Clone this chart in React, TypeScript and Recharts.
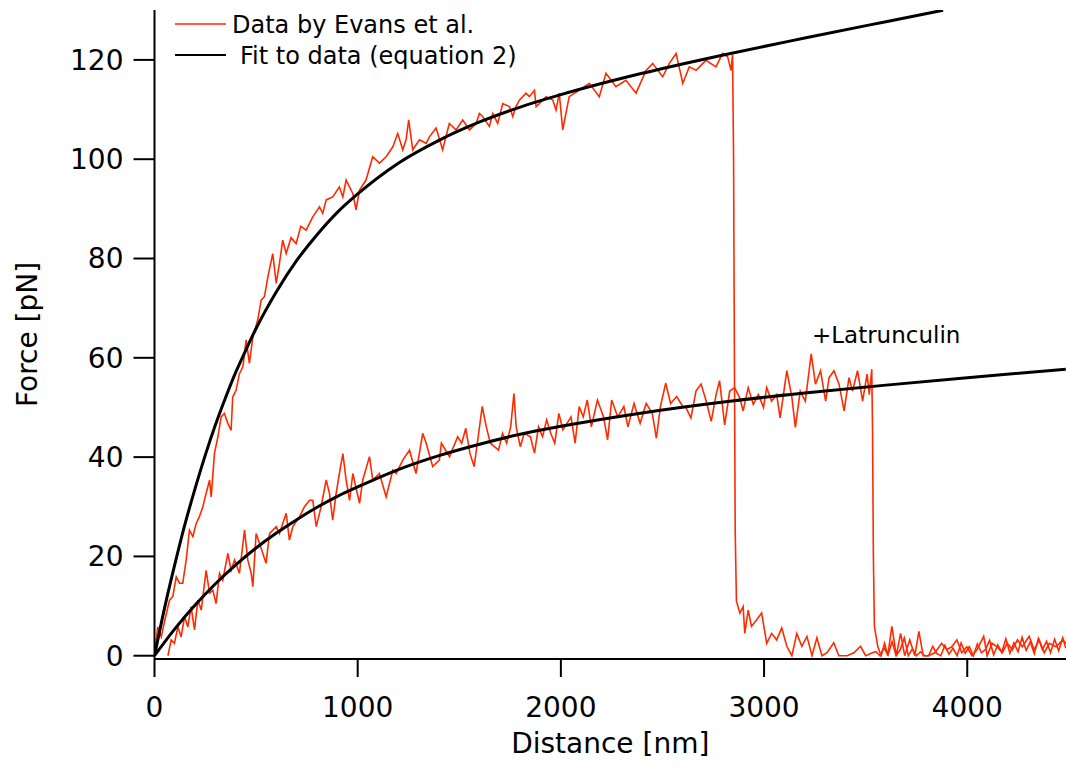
import { Label, Legend, Line, LineChart, ReferenceDot, XAxis, YAxis } from 'recharts';

// [distance nm, force pN]
type Pt = [number, number];

const X_TICKS = [0, 1000, 2000, 3000, 4000];
const Y_TICKS = [0, 20, 40, 60, 80, 100, 120];

const SERIES_DATA = 'Data by Evans et al.';
const SERIES_FIT = 'Fit to data (equation 2)';
const NOTE = '+Latrunculin';

const evansControl: Pt[] = [
  [0, 0], [5, 2], [16, 5.8], [33, 3.8], [50, 7], [74, 11.2], [90, 11.9], [107, 15.9], [123, 14.6],
  [139, 14.6], [156, 19.3], [172, 25.3], [189, 24], [205, 26.6], [221, 28], [238, 30], [254, 32.7],
  [271, 35.4], [279, 32], [295, 40.7], [312, 44.1], [328, 48.1], [344, 48.8], [361, 46.8], [377, 45.4],
  [385, 52.1], [402, 53.5], [418, 56.8], [435, 58.2], [451, 63.6], [467, 58.9], [484, 64.2], [508, 67.6],
  [525, 71.6], [541, 72.3], [558, 76.3], [582, 81], [599, 75], [615, 79], [631, 83.7], [648, 81],
  [672, 84.2], [697, 83], [720, 86.5], [746, 85.7], [779, 88.4], [812, 90.4], [828, 89.1], [845, 91.8],
  [877, 92.4], [910, 94.4], [927, 92.4], [943, 95.8], [976, 93.1], [992, 89.8], [1009, 93.8], [1041, 95.8],
  [1074, 100.5], [1107, 99.2], [1140, 100.5], [1173, 102.5], [1197, 105.2], [1222, 101.9], [1238, 103.9],
  [1251, 107.9], [1271, 101.9], [1304, 103.9], [1337, 103.2], [1353, 104.5], [1386, 106.3], [1418, 101.9],
  [1451, 107.2], [1484, 105.9], [1517, 107.9], [1550, 105.9], [1583, 107.2], [1599, 109.2], [1615, 108.6],
  [1648, 106.6], [1665, 109.2], [1689, 107.2], [1714, 111.2], [1747, 110.6], [1763, 108.6], [1779, 110.6],
  [1796, 111.9], [1828, 113.3], [1845, 112.6], [1870, 113.9], [1878, 110.6], [1894, 111.2], [1927, 112.6],
  [1960, 111.9], [1976, 109.9], [1992, 113.3], [2009, 105.9], [2041, 112.6], [2091, 113.9], [2140, 115.3],
  [2189, 112.6], [2222, 117.3], [2271, 114.6], [2320, 115.9], [2370, 113.3], [2419, 117.9], [2452, 119.3],
  [2501, 116.6], [2534, 119.3], [2567, 121.3], [2600, 115.3], [2632, 118.6], [2665, 117.9], [2714, 119.9],
  [2763, 118.6], [2796, 121.3], [2821, 120.6], [2837, 117.9], [2845, 121], [2850, 100], [2854, 60],
  [2858, 25], [2864, 11], [2881, 8.6], [2897, 9.9], [2905, 4.5], [2922, 9.2], [2938, 5.9], [2963, 7.2],
  [2988, 8.6], [3013, 2.5], [3037, 4.5], [3062, 3.2], [3087, 5.6], [3112, 1.9], [3137, 0], [3161, 4.5],
  [3186, 1.9], [3211, 3.9], [3236, 0], [3260, 3.6], [3285, 0], [3310, 0.6], [3343, 2.6], [3368, 0],
  [3409, 0], [3442, 0.6], [3475, 1.9], [3500, 0], [3533, 0.6], [3550, 0.8], [3570, 0], [3590, 1.6],
  [3610, 0.2], [3630, 2.8], [3650, 0], [3670, 1.2], [3690, 3.6], [3710, 0], [3730, 1.4], [3750, 0],
  [3770, 0.8], [3790, 0], [3810, 0], [3830, 1.9], [3850, 0.4], [3870, 0], [3890, 2.1], [3910, 0.3],
  [3930, 1.5], [3950, 0], [3970, 2.6], [3990, 0.5], [4010, 1.8], [4030, 0], [4050, 2.4], [4070, 0.6],
  [4090, 1.3], [4110, 3.1], [4130, 0.2], [4150, 2.2], [4170, 0.7], [4190, 3.4], [4210, 0.5], [4230, 2.6],
  [4250, 0.8], [4270, 3.7], [4290, 1.1], [4310, 2.8], [4330, 0.4], [4350, 3.5], [4370, 1.2], [4390, 2.9],
  [4410, 0.6], [4430, 3.3], [4450, 1], [4470, 3.6], [4485, 1.5],
];

const evansLatrunculin: Pt[] = [
  [66, 0], [82, 3.2], [98, 2.5], [115, 5.8], [131, 3.8], [148, 7.9], [164, 5.8], [180, 9.9], [197, 5.2],
  [213, 11.2], [230, 9.2], [254, 17.2], [271, 12.6], [287, 13.2], [303, 10.5], [320, 16.6], [336, 15.2],
  [361, 20.6], [377, 17.2], [394, 19.3], [418, 16.6], [443, 25.3], [459, 19.3], [476, 16.6], [484, 13.9],
  [500, 24.6], [517, 22.6], [533, 20.6], [549, 18.6], [566, 24.6], [599, 26], [615, 24.6], [648, 28.7],
  [664, 23.3], [681, 26], [714, 28], [738, 30], [763, 31.3], [779, 31.3], [796, 26], [820, 30],
  [845, 35.4], [861, 32.7], [877, 27.3], [894, 32.7], [910, 36.7], [927, 40.7], [943, 35.4], [960, 31.3],
  [976, 36.7], [1009, 30.7], [1025, 35.4], [1058, 40.1], [1074, 35.4], [1107, 36.7], [1140, 32],
  [1173, 37.4], [1189, 36.7], [1222, 39.4], [1255, 41.4], [1287, 36.7], [1320, 44.8], [1337, 42.8],
  [1369, 38.1], [1402, 39.4], [1412, 42.8], [1452, 40.1], [1492, 44.1], [1512, 42.8], [1532, 45.8],
  [1552, 40.8], [1573, 38.1], [1593, 44.1], [1613, 50.2], [1633, 46.1], [1653, 42.8], [1673, 42.1],
  [1693, 41.4], [1713, 44.8], [1733, 42.8], [1753, 46.1], [1769, 52.8], [1780, 46.1], [1800, 42.1],
  [1820, 44.8], [1850, 44.1], [1870, 40.8], [1890, 46.1], [1910, 44.1], [1930, 47.5], [1950, 44.8],
  [1970, 42.8], [1990, 48.8], [2010, 45.5], [2030, 46.8], [2050, 48.1], [2070, 42.8], [2090, 50.2],
  [2110, 48.1], [2130, 51.5], [2150, 46.1], [2180, 51.5], [2210, 48.1], [2230, 43.5], [2250, 51.5],
  [2280, 48.1], [2310, 50.2], [2330, 46.1], [2360, 50.8], [2390, 46.8], [2420, 50.8], [2450, 48.8],
  [2470, 43.8], [2490, 50.2], [2516, 54.9], [2540, 50.8], [2570, 52.2], [2600, 50.2], [2615, 50],
  [2640, 47.9], [2665, 53.3], [2690, 54.7], [2715, 51.3], [2740, 47.2], [2764, 52.6], [2781, 55.4],
  [2806, 46.5], [2831, 53.3], [2855, 54], [2880, 52], [2897, 49.3], [2922, 54], [2947, 50.6],
  [2972, 52.6], [2997, 50], [3013, 54], [3037, 51.3], [3062, 52.6], [3079, 47.9], [3112, 57.4],
  [3137, 52], [3154, 46], [3178, 53.3], [3203, 51.3], [3232, 60.8], [3253, 54.7], [3278, 57.4],
  [3303, 51.3], [3320, 56], [3344, 57.4], [3369, 54.7], [3394, 49.3], [3418, 56], [3435, 53.3],
  [3460, 57.4], [3485, 51.3], [3507, 56.7], [3518, 52.6], [3530, 57.7], [3534, 45], [3538, 20],
  [3543, 5.9], [3560, 1.8], [3576, 0], [3593, 2.5], [3609, 0], [3629, 5.9], [3651, 0], [3672, 4.5],
  [3692, 0], [3717, 3.2], [3742, 0], [3762, 4.9], [3783, 0], [3808, 0], [3841, 0.6], [3874, 2.5],
  [3899, 1.2], [3924, 1.8], [3949, 3.2], [3973, 0.6], [3998, 1.8], [4023, 0], [4048, 1.2], [4081, 3.9],
  [4098, 0], [4122, 2.5], [4147, 1.8], [4172, 0.6], [4197, 2.5], [4222, 1.2], [4247, 3.2], [4271, 1.8],
  [4305, 3.9], [4329, 1.2], [4354, 3.2], [4379, 0.6], [4404, 2.5], [4437, 1.8], [4470, 3.2], [4485, 2.5],
];

const fitControl: Pt[] = [
  [0, 0], [50, 9.7], [100, 18.4], [150, 26.5], [200, 33.7], [250, 40.4], [300, 46.5], [350, 52],
  [400, 57.1], [450, 61.6], [500, 65.9], [600, 73.3], [700, 79.6], [800, 84.8], [900, 89.3],
  [1000, 93], [1200, 99.2], [1400, 103.8], [1600, 107.5], [1800, 110.5], [2000, 113], [2400, 117.3],
  [2800, 121], [3200, 124.4], [3600, 127.7], [3881, 130],
];

const fitLatrunculin: Pt[] = [
  [0, 0], [100, 5.4], [200, 10.2], [300, 14.5], [400, 18.3], [500, 21.7], [600, 24.7], [700, 27.4],
  [800, 29.9], [900, 32.1], [1000, 34], [1200, 37.5], [1400, 40.3], [1600, 42.6], [1800, 44.6],
  [2000, 46.2], [2400, 48.9], [2800, 51.1], [3200, 52.9], [3600, 54.5], [4000, 56], [4485, 57.7],
];

const RED = '#ff2a00';
const FONT = '"DejaVu Sans", sans-serif';

const rows = (pts: Pt[]) => pts.map(([x, y]) => ({ x, y }));

function LegendBox() {
  return (
    <svg width={560} height={80} style={{ display: 'block' }}>
      <line x1={175} x2={226} y1={24} y2={24} stroke={RED} strokeWidth={1.5} />
      <text x={232} y={33} fontSize={24} fontFamily={FONT} fill="#000">
        {SERIES_DATA}
      </text>
      <line x1={175} x2={226} y1={55} y2={55} stroke="#000" strokeWidth={2} />
      <text x={240} y={64} fontSize={24} fontFamily={FONT} fill="#000">
        {SERIES_FIT}
      </text>
    </svg>
  );
}

export default function App() {
  const axisStroke = { stroke: '#000', strokeWidth: 2 };
  const tickStyle = { fontSize: 28, fill: '#000', fontFamily: FONT };

  return (
    <div style={{ width: 1066, height: 770, background: '#fff' }}>
      <style>{'body{margin:0;background:#fff}'}</style>
      <LineChart
        width={1066}
        height={770}
        margin={{ top: 10, right: 0, bottom: 0, left: 0 }}
        style={{ fontFamily: FONT }}
      >
        <XAxis
          type="number"
          dataKey="x"
          domain={[0, 4486]}
          ticks={X_TICKS}
          interval={0}
          allowDataOverflow
          height={111}
          tickSize={18}
          tickMargin={20}
          axisLine={axisStroke}
          tickLine={axisStroke}
          tick={tickStyle}
        >
          <Label
            value="Distance [nm]"
            position="insideBottom"
            offset={17}
            style={{ fontSize: 28, fill: '#000', fontFamily: FONT }}
          />
        </XAxis>
        <YAxis
          type="number"
          domain={[-0.66, 130.05]}
          ticks={Y_TICKS}
          interval={0}
          allowDataOverflow
          width={154.5}
          tickSize={21}
          tickMargin={10}
          axisLine={axisStroke}
          tickLine={axisStroke}
          tick={tickStyle}
        >
          <Label
            value="Force [pN]"
            angle={-90}
            position="insideLeft"
            offset={26.7}
            style={{ fontSize: 28, fill: '#000', fontFamily: FONT, textAnchor: 'middle' }}
          />
        </YAxis>
        <Legend
          layout="vertical"
          align="center"
          verticalAlign="middle"
          content={() => <LegendBox />}
          wrapperStyle={{ position: 'absolute', left: 0, top: 0, width: 560, height: 80 }}
        />
        <Line
          data={rows(evansControl)}
          dataKey="y"
          name={SERIES_DATA}
          type="linear"
          stroke={RED}
          strokeWidth={1.6}
          dot={false}
          isAnimationActive={false}
        />
        <Line
          data={rows(evansLatrunculin)}
          dataKey="y"
          name={`${SERIES_DATA} ${NOTE}`}
          type="linear"
          stroke={RED}
          strokeWidth={1.6}
          dot={false}
          isAnimationActive={false}
        />
        <Line
          data={rows(fitControl)}
          dataKey="y"
          name={SERIES_FIT}
          type="monotone"
          stroke="#000"
          strokeWidth={3}
          dot={false}
          isAnimationActive={false}
        />
        <Line
          data={rows(fitLatrunculin)}
          dataKey="y"
          name={`${SERIES_FIT} ${NOTE}`}
          type="monotone"
          stroke="#000"
          strokeWidth={3}
          dot={false}
          isAnimationActive={false}
        />
        <ReferenceDot
          x={3601}
          y={64.6}
          r={0}
          fill="none"
          stroke="none"
          ifOverflow="visible"
          label={{ value: NOTE, position: 'center', fontSize: 23, fill: '#000', fontFamily: FONT }}
        />
      </LineChart>
    </div>
  );
}
